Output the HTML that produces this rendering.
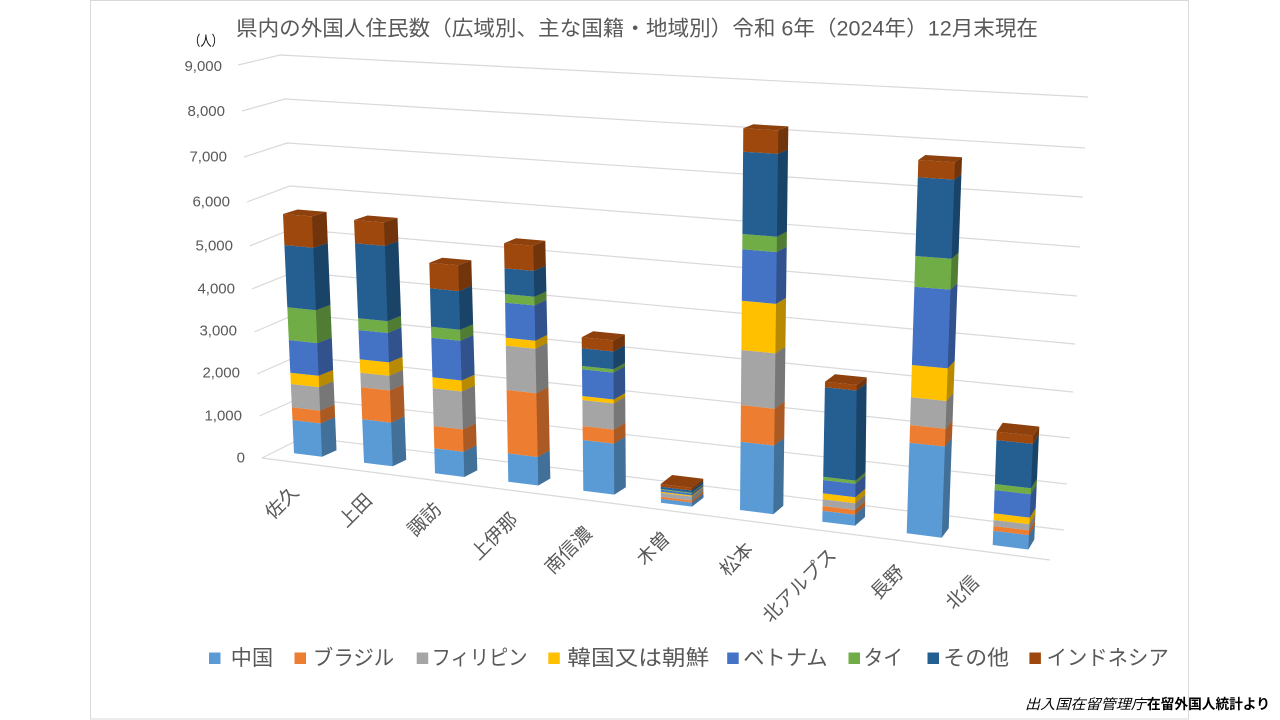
<!DOCTYPE html>
<html lang="ja">
<head>
<meta charset="utf-8">
<style>
  html,body{margin:0;padding:0;background:#fff;}
  svg{display:block;}
  text{font-family:"Liberation Sans","Noto Sans CJK JP",sans-serif;}
  .g{fill:none;stroke:#D9D9D9;stroke-width:1.2;}
  .c0{fill:#5B9BD5}.c1{fill:#ED7D31}.c2{fill:#A5A5A5}.c3{fill:#FFC000}
  .c4{fill:#4472C4}.c5{fill:#70AD47}.c6{fill:#255E91}.c7{fill:#9E480E}
  .sh{fill:#000;fill-opacity:0.28}
  .tp{fill:#8E410D}
  .tk{font-size:15px;fill:#595959;text-anchor:end;dominant-baseline:central;}
  .cat{font-size:19px;fill:#595959;text-anchor:middle;dominant-baseline:central;}
  .lg{font-size:21px;fill:#595959;dominant-baseline:central;}
</style>
</head>
<body>
<svg width="1280" height="720" viewBox="0 0 1280 720" xmlns="http://www.w3.org/2000/svg">
  <rect x="0" y="0" width="1280" height="720" fill="#fff"/>
  <rect x="90.5" y="0.5" width="1098" height="718.5" fill="none" stroke="#D9D9D9" stroke-width="1"/>

  <!-- title -->
  <text x="236" y="29" font-size="21" fill="#595959" dominant-baseline="central" textLength="802" lengthAdjust="spacingAndGlyphs">県内の外国人住民数（広域別、主な国籍・地域別）令和 6年（2024年）12月末現在</text>
  <text x="189" y="41" font-size="14" fill="#000" dominant-baseline="central" textLength="34" lengthAdjust="spacingAndGlyphs">（人）</text>

  <!-- gridlines -->
  <polyline class="g" points="262,458 304,437 1064,530"/>
  <polyline class="g" points="262,458 1050,560"/>
  <polyline class="g" points="259.5,416 300,398 1067,484"/>
  <polyline class="g" points="257,374 298,356 1070,438"/>
  <polyline class="g" points="254.5,332 296,314 1073,392"/>
  <polyline class="g" points="252,289 294,272 1075,344"/>
  <polyline class="g" points="249.5,246 292,229 1077,296"/>
  <polyline class="g" points="247,202 290,186 1080,247"/>
  <polyline class="g" points="244,157 287,143 1083,197"/>
  <polyline class="g" points="242,111 285,99 1085,148"/>
  <polyline class="g" points="238,65 280,55 1088,97"/>

  <!-- y tick labels -->
  <text class="tk" x="222" y="66.7">9,000</text>
  <text class="tk" x="225" y="111.7">8,000</text>
  <text class="tk" x="227" y="157">7,000</text>
  <text class="tk" x="230" y="202">6,000</text>
  <text class="tk" x="233" y="246">5,000</text>
  <text class="tk" x="235" y="289">4,000</text>
  <text class="tk" x="237" y="331">3,000</text>
  <text class="tk" x="240" y="373">2,000</text>
  <text class="tk" x="242" y="416">1,000</text>
  <text class="tk" x="245" y="458">0</text>

  <!-- Bar 1 佐久 -->
  <polygon class="c0" points="294,453.3 322,456.8 336.5,450.3 335.1,417.2 320.6,423.4 292.5,420"/>
  <polygon class="c1" points="292.5,420 320.6,423.4 335.1,417.2 334.6,404.5 320.1,410.6 291.9,407.3"/>
  <polygon class="c2" points="291.9,407.3 320.1,410.6 334.6,404.5 333.6,381.2 319.1,387.1 290.8,384"/>
  <polygon class="c3" points="290.8,384 319.1,387.1 333.6,381.2 333.1,370 318.6,375.8 290.3,372.7"/>
  <polygon class="c4" points="290.3,372.7 318.6,375.8 333.1,370 331.8,337.6 317.3,343.1 288.8,340"/>
  <polygon class="c5" points="288.8,340 317.3,343.1 331.8,337.6 330.4,304.9 315.9,310.2 287.3,307.3"/>
  <polygon class="c6" points="287.3,307.3 315.9,310.2 330.4,304.9 327.8,242.9 313.3,247.7 284.4,245"/>
  <polygon class="c7" points="284.4,245 313.3,247.7 327.8,242.9 326.5,211.9 312,216.4 283,214"/>
  <polygon class="sh" points="322,456.8 336.5,450.3 326.5,211.9 312,216.4"/>
  <polygon class="tp" points="283,214 312,216.4 326.5,211.9 297.5,209.5"/>

  <!-- Bar 2 上田 -->
  <polygon class="c0" points="364,462.7 392.7,466.3 406.2,459.7 404.6,416.4 391.1,422.6 362.2,419.3"/>
  <polygon class="c1" points="362.2,419.3 391.1,422.6 404.6,416.4 403.5,384.5 390,390.4 360.9,387.3"/>
  <polygon class="c2" points="360.9,387.3 390,390.4 403.5,384.5 403,370 389.5,375.8 360.3,372.7"/>
  <polygon class="c3" points="360.3,372.7 389.5,375.8 403,370 402.5,356.7 389,362.4 359.7,359.3"/>
  <polygon class="c4" points="359.7,359.3 389,362.4 402.5,356.7 401.4,327.4 387.9,332.9 358.5,330"/>
  <polygon class="c5" points="358.5,330 387.9,332.9 401.4,327.4 401,315.8 387.5,321.2 358.1,318.3"/>
  <polygon class="c6" points="358.1,318.3 387.5,321.2 401,315.8 398.3,241.1 384.8,245.8 355,243.3"/>
  <polygon class="c7" points="355,243.3 384.8,245.8 398.3,241.1 397.5,217.9 384,222.4 354,220"/>
  <polygon class="sh" points="392.7,466.3 406.2,459.7 397.5,217.9 384,222.4"/>
  <polygon class="tp" points="354,220 384,222.4 397.5,217.9 367.5,215.5"/>

  <!-- Bar 3 諏訪 -->
  <polygon class="c0" points="435,473.3 464.3,477 477.3,470.3 476.6,445.3 463.6,451.8 434.3,448.3"/>
  <polygon class="c1" points="434.3,448.3 463.6,451.8 476.6,445.3 475.9,423.1 462.9,429.4 433.7,426"/>
  <polygon class="c2" points="433.7,426 462.9,429.4 475.9,423.1 474.9,385.5 461.9,391.5 432.7,388.3"/>
  <polygon class="c3" points="432.7,388.3 461.9,391.5 474.9,385.5 474.6,374.6 461.6,380.5 432.4,377.3"/>
  <polygon class="c4" points="432.4,377.3 461.6,380.5 474.6,374.6 473.4,335.1 460.4,340.7 431.3,337.7"/>
  <polygon class="c5" points="431.3,337.7 460.4,340.7 473.4,335.1 473.1,324.2 460.1,329.7 431,326.7"/>
  <polygon class="c6" points="431,326.7 460.1,329.7 473.1,324.2 472,285.9 459,291.1 430,288.3"/>
  <polygon class="c7" points="430,288.3 459,291.1 472,285.9 471.3,260.3 458.3,265.3 429.3,262.7"/>
  <polygon class="sh" points="464.3,477 477.3,470.3 471.3,260.3 458.3,265.3"/>
  <polygon class="tp" points="429.3,262.7 458.3,265.3 471.3,260.3 442.3,257.7"/>

  <!-- Bar 4 上伊那 -->
  <polygon class="c0" points="508.3,481.7 538.3,485.5 550.3,478.5 549.7,450.2 537.7,457 507.8,453.3"/>
  <polygon class="c1" points="507.8,453.3 537.7,457 549.7,450.2 548.4,387 536.4,393.2 506.6,390"/>
  <polygon class="c2" points="506.6,390 536.4,393.2 548.4,387 547.5,342.9 535.5,348.8 505.8,345.7"/>
  <polygon class="c3" points="505.8,345.7 535.5,348.8 547.5,342.9 547.3,334.9 535.3,340.7 505.7,337.7"/>
  <polygon class="c4" points="505.7,337.7 535.3,340.7 547.3,334.9 546.5,299.9 534.5,305.4 505.1,302.7"/>
  <polygon class="c5" points="505.1,302.7 534.5,305.4 546.5,299.9 546.4,291.4 534.4,296.8 504.9,294"/>
  <polygon class="c6" points="504.9,294 534.4,296.8 546.4,291.4 545.8,265.7 533.8,270.9 504.5,268.3"/>
  <polygon class="c7" points="504.5,268.3 533.8,270.9 545.8,265.7 545.3,240.7 533.3,245.7 504,243.3"/>
  <polygon class="sh" points="538.3,485.5 550.3,478.5 545.3,240.7 533.3,245.7"/>
  <polygon class="tp" points="504,243.3 533.3,245.7 545.3,240.7 516,238.3"/>

  <!-- Bar 5 南信濃 -->
  <polygon class="c0" points="583.3,490.7 614.3,494.6 625.8,487.2 625.5,436.7 614,443.6 582.8,440"/>
  <polygon class="c1" points="582.8,440 614,443.6 625.5,436.7 625.4,422.7 613.9,429.5 582.6,426"/>
  <polygon class="c2" points="582.6,426 613.9,429.5 625.4,422.7 625.2,396.9 613.7,403.5 582.4,400"/>
  <polygon class="c3" points="582.4,400 613.7,403.5 625.2,396.9 625.2,393 613.7,399.5 582.3,396"/>
  <polygon class="c4" points="582.3,396 613.7,399.5 625.2,393 625,366.3 613.5,372.6 582,369.3"/>
  <polygon class="c5" points="582,369.3 613.5,372.6 625,366.3 625,362.9 613.5,369.2 582,366"/>
  <polygon class="c6" points="582,366 613.5,369.2 625,362.9 624.9,345.4 613.4,351.5 581.8,348.3"/>
  <polygon class="c7" points="581.8,348.3 613.4,351.5 624.9,345.4 624.8,334.4 613.3,340.4 581.7,337.3"/>
  <polygon class="sh" points="614.3,494.6 625.8,487.2 624.8,334.4 613.3,340.4"/>
  <polygon class="tp" points="581.7,337.3 613.3,340.4 624.8,334.4 593.2,331.3"/>

  <!-- Bar 6 木曽 -->
  <polygon class="c0" points="661,502.7 692,506.6 703.5,497.6 703.4,493.6 691.9,502.6 660.9,498.7"/>
  <polygon class="c1" points="660.9,498.7 691.9,502.6 703.4,493.6 703.4,491.6 691.9,500.6 660.9,496.7"/>
  <polygon class="c2" points="660.9,496.7 691.9,500.6 703.4,491.6 703.3,487.5 691.8,496.5 660.8,492.7"/>
  <polygon class="c3" points="660.8,492.7 691.8,496.5 703.3,487.5 703.3,486.5 691.8,495.5 660.8,491.7"/>
  <polygon class="c4" points="660.8,491.7 691.8,495.5 703.3,486.5 703.3,484.5 691.8,493.5 660.8,489.7"/>
  <polygon class="c5" points="660.8,489.7 691.8,493.5 703.3,484.5 703.3,483.8 691.8,492.8 660.8,489"/>
  <polygon class="c6" points="660.8,489 691.8,492.8 703.3,483.8 703.2,481.5 691.7,490.5 660.7,486.7"/>
  <polygon class="c7" points="660.7,486.7 691.7,490.5 703.2,481.5 703.2,478.8 691.7,487.8 660.7,484"/>
  <polygon class="sh" points="692,506.6 703.5,497.6 703.2,478.8 691.7,487.8"/>
  <polygon class="tp" points="660.7,484 691.7,487.8 703.2,478.8 672.2,475"/>

  <!-- Bar 7 松本 -->
  <polygon class="c0" points="740,510 773.3,514.2 783.3,505.8 784.2,437.9 774.2,445.5 740.6,441.7"/>
  <polygon class="c1" points="740.6,441.7 774.2,445.5 784.2,437.9 784.7,401.5 774.7,408.7 740.9,405"/>
  <polygon class="c2" points="740.9,405 774.7,408.7 784.7,401.5 785.4,346.8 775.4,353.4 741.4,350"/>
  <polygon class="c3" points="741.4,350 775.4,353.4 785.4,346.8 786,297.9 776,303.9 741.8,300.7"/>
  <polygon class="c4" points="741.8,300.7 776,303.9 786,297.9 786.7,246.7 776.7,252.1 742.3,249.3"/>
  <polygon class="c5" points="742.3,249.3 776.7,252.1 786.7,246.7 786.9,231.5 776.9,236.7 742.4,234"/>
  <polygon class="c6" points="742.4,234 776.9,236.7 786.9,231.5 788,149.5 778,153.8 743.1,151.7"/>
  <polygon class="c7" points="743.1,151.7 778,153.8 788,149.5 788.3,126.4 778.3,130.4 743.3,128.3"/>
  <polygon class="sh" points="773.3,514.2 783.3,505.8 788.3,126.4 778.3,130.4"/>
  <polygon class="tp" points="743.3,128.3 778.3,130.4 788.3,126.4 753.3,124.3"/>

  <!-- Bar 8 北アルプス -->
  <polygon class="c0" points="822.3,521.7 855,525.8 865,517 865.1,506 855.1,514.7 822.5,510.7"/>
  <polygon class="c1" points="822.5,510.7 855.1,514.7 865.1,506 865.2,501.3 855.2,510 822.6,506"/>
  <polygon class="c2" points="822.6,506 855.2,510 865.2,501.3 865.3,494.7 855.3,503.3 822.7,499.3"/>
  <polygon class="c3" points="822.7,499.3 855.3,503.3 865.3,494.7 865.3,488.7 855.3,497.2 822.8,493.3"/>
  <polygon class="c4" points="822.8,493.3 855.3,497.2 865.3,488.7 865.5,475.4 855.5,483.8 823.1,480"/>
  <polygon class="c5" points="823.1,480 855.5,483.8 865.5,475.4 865.5,472.2 855.5,480.6 823.2,476.7"/>
  <polygon class="c6" points="823.2,476.7 855.5,480.6 865.5,472.2 866.6,383 856.6,390.5 824.9,387.3"/>
  <polygon class="c7" points="824.9,387.3 856.6,390.5 866.6,383 866.7,377.4 856.7,384.9 825,381.7"/>
  <polygon class="sh" points="855,525.8 865,517 866.7,377.4 856.7,384.9"/>
  <polygon class="tp" points="825,381.7 856.7,384.9 866.7,377.4 835,374.2"/>

  <!-- Bar 9 長野 -->
  <polygon class="c0" points="906.7,533.3 941.7,537.7 948.7,528.2 951.9,438.1 944.9,446.5 909.5,442.7"/>
  <polygon class="c1" points="909.5,442.7 944.9,446.5 951.9,438.1 952.6,420.6 945.6,428.8 910.1,425"/>
  <polygon class="c2" points="910.1,425 945.6,428.8 952.6,420.6 953.5,393.1 946.5,401 910.9,397.3"/>
  <polygon class="c3" points="910.9,397.3 946.5,401 953.5,393.1 954.7,360.9 947.7,368.4 911.9,365"/>
  <polygon class="c4" points="911.9,365 947.7,368.4 954.7,360.9 957.5,283.1 950.5,289.6 914.4,286.7"/>
  <polygon class="c5" points="914.4,286.7 950.5,289.6 957.5,283.1 958.6,252.6 951.6,258.8 915.3,256"/>
  <polygon class="c6" points="915.3,256 951.6,258.8 958.6,252.6 961.4,174.4 954.4,179.6 917.8,177.3"/>
  <polygon class="c7" points="917.8,177.3 954.4,179.6 961.4,174.4 962,157.3 955,162.3 918.3,160"/>
  <polygon class="sh" points="941.7,537.7 948.7,528.2 962,157.3 955,162.3"/>
  <polygon class="tp" points="918.3,160 955,162.3 962,157.3 925.3,155"/>

  <!-- Bar 10 北信 -->
  <polygon class="c0" points="992.7,545 1028.3,549.5 1034.3,539.5 1034.9,525.2 1028.9,535.1 993.2,530.7"/>
  <polygon class="c1" points="993.2,530.7 1028.9,535.1 1034.9,525.2 1035.1,520.6 1029.1,530.4 993.4,526"/>
  <polygon class="c2" points="993.4,526 1029.1,530.4 1035.1,520.6 1035.4,514.5 1029.4,524.3 993.6,520"/>
  <polygon class="c3" points="993.6,520 1029.4,524.3 1035.4,514.5 1035.7,507.9 1029.7,517.6 993.8,513.3"/>
  <polygon class="c4" points="993.8,513.3 1029.7,517.6 1035.7,507.9 1036.7,484.8 1030.7,494.3 994.6,490"/>
  <polygon class="c5" points="994.6,490 1030.7,494.3 1036.7,484.8 1037,478.7 1031,488.2 994.9,484"/>
  <polygon class="c6" points="994.9,484 1031,488.2 1037,478.7 1038.9,434.8 1032.9,443.9 996.4,440"/>
  <polygon class="c7" points="996.4,440 1032.9,443.9 1038.9,434.8 1039.3,426.6 1033.3,435.6 996.7,431.7"/>
  <polygon class="sh" points="1028.3,549.5 1034.3,539.5 1039.3,426.6 1033.3,435.6"/>
  <polygon class="tp" points="996.7,431.7 1033.3,435.6 1039.3,426.6 1002.7,422.7"/>

  <!-- category labels -->
  <text class="cat" x="282.5" y="503" transform="rotate(-45 282.5 503)">佐久</text>
  <text class="cat" x="356" y="511" transform="rotate(-45 356 511)">上田</text>
  <text class="cat" x="425" y="520" transform="rotate(-45 425 520)">諏訪</text>
  <text class="cat" x="495" y="537" transform="rotate(-45 495 537)">上伊那</text>
  <text class="cat" x="569" y="551" transform="rotate(-45 569 551)">南信濃</text>
  <text class="cat" x="654" y="549" transform="rotate(-45 654 549)">木曽</text>
  <text class="cat" x="737" y="560" transform="rotate(-45 737 560)">松本</text>
  <text class="cat" x="800" y="586" transform="rotate(-45 800 586)">北アルプス</text>
  <text class="cat" x="888" y="583" transform="rotate(-45 888 583)">長野</text>
  <text class="cat" x="963" y="593" transform="rotate(-45 963 593)">北信</text>

  <!-- legend -->
  <rect x="209" y="652.5" width="11.5" height="11.5" fill="#5B9BD5"/>
  <text class="lg" x="230.8" y="658.4" textLength="42.3" lengthAdjust="spacingAndGlyphs">中国</text>
  <rect x="294.5" y="652.5" width="11.5" height="11.5" fill="#ED7D31"/>
  <text class="lg" x="312.9" y="658.4" textLength="81.3" lengthAdjust="spacingAndGlyphs">ブラジル</text>
  <rect x="416.7" y="652.5" width="11.5" height="11.5" fill="#A5A5A5"/>
  <text class="lg" x="431.6" y="658.4" textLength="95.9" lengthAdjust="spacingAndGlyphs">フィリピン</text>
  <rect x="548.3" y="652.5" width="11.5" height="11.5" fill="#FFC000"/>
  <text class="lg" x="567.3" y="658.4" textLength="141.9" lengthAdjust="spacingAndGlyphs">韓国又は朝鮮</text>
  <rect x="727.2" y="652.5" width="11.5" height="11.5" fill="#4472C4"/>
  <text class="lg" x="743.3" y="658.4" textLength="84.4" lengthAdjust="spacingAndGlyphs">ベトナム</text>
  <rect x="848.5" y="652.5" width="11.5" height="11.5" fill="#70AD47"/>
  <text class="lg" x="863.6" y="658.4" textLength="39.4" lengthAdjust="spacingAndGlyphs">タイ</text>
  <rect x="927.5" y="652.5" width="11.5" height="11.5" fill="#255E91"/>
  <text class="lg" x="943.3" y="658.4" textLength="65.7" lengthAdjust="spacingAndGlyphs">その他</text>
  <rect x="1029.4" y="652.5" width="11.5" height="11.5" fill="#9E480E"/>
  <text class="lg" x="1046.6" y="658.4" textLength="122.1" lengthAdjust="spacingAndGlyphs">インドネシア</text>

  <!-- source note -->
  <text x="1025" y="704" font-size="14" fill="#000" font-style="italic" dominant-baseline="central" textLength="121" lengthAdjust="spacingAndGlyphs">出入国在留管理庁</text>
  <text x="1147" y="704" font-size="14" fill="#000" font-weight="bold" dominant-baseline="central" textLength="123" lengthAdjust="spacingAndGlyphs">在留外国人統計より</text>
</svg>
</body>
</html>
